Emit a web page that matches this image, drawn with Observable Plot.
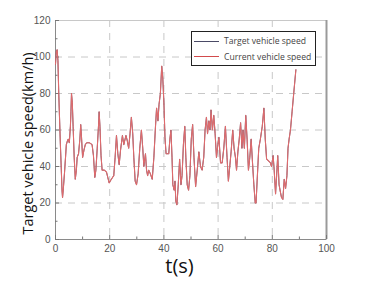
<!DOCTYPE html>
<html>
<head>
<meta charset="utf-8">
<script src="https://cdn.jsdelivr.net/npm/d3@7"></script>
<script src="https://cdn.jsdelivr.net/npm/@observablehq/plot@0.6"></script>
<style>
  html, body { margin: 0; padding: 0; background: #fff; }
  #wrap { position: relative; width: 373px; height: 283px; overflow: hidden; }
  #legend { position: absolute; left: 191px; top: 31px; width: 123px; height: 33px;
    border: 1.5px solid #222; background: #fff; font-family: "Open Sans", sans-serif; font-size: 8.6px; color: #444; }
  #legend .row { position: absolute; left: 2px; height: 12px; display: flex; align-items: center; white-space: nowrap; }
  #legend .sw { width: 25px; height: 0; border-top: 1px solid; margin-right: 5px; }
</style>
</head>
<body>
<div id="wrap"></div>
<script>
const time = [0,0.3,0.6,0.9,1.2,1.5,1.8,2.1,2.4,2.6,2.9,3.3,3.7,4.0,4.4,4.7,5.1,5.5,5.7,5.9,6.2,6.5,6.9,7.3,7.7,8.0,8.5,9.0,9.3,9.6,10.0,10.5,11.0,11.5,12.5,13.5,14.0,14.5,14.9,15.4,15.9,16.1,16.4,16.8,17.2,18.0,18.8,19.3,19.8,20.6,21.5,22.0,22.5,23.0,23.5,24.0,24.7,25.2,26.0,26.5,27.0,27.5,28.0,28.5,28.9,29.4,29.9,30.5,31.1,31.7,32.2,32.6,33.2,33.6,34.0,34.4,35.0,35.7,36.3,36.9,37.3,37.8,38.2,38.7,39.2,39.6,40.0,40.4,40.8,41.8,42.2,42.6,43.0,43.3,43.8,44.1,44.4,44.8,45.3,45.8,46.3,46.7,47.2,47.7,48.1,48.6,49.1,49.6,50.1,50.6,51.1,51.7,52.3,52.9,53.5,54.1,54.7,55.2,55.7,56.1,56.6,57.0,57.4,57.9,58.4,58.9,59.4,59.9,60.3,60.9,61.5,62.1,62.7,63.3,63.8,64.3,64.8,65.4,65.9,66.4,66.8,67.3,67.8,68.3,68.8,69.2,69.7,70.2,70.7,71.2,71.7,72.2,72.7,73.2,73.7,74.0,74.5,75.0,75.6,76.3,76.9,77.4,77.9,78.7,79.3,79.7,80.3,80.7,81.2,81.6,82.0,82.5,83.0,83.4,83.9,84.4,84.9,85.4,85.8,86.2,86.7,87.3,87.9,88.7];
const targetSpeed = [96,103,104,98,80,66,52,40,27,23,28,36,45,52,54,55,53,62,70,80,75,62,45,33,38,45,47,55,63,56,45,49,52,53,53,52,46,34,38,50,63,70,62,46,38,38,37,34,31,33,35,45,57,47,41,49,57,52,57,54,50,58,67,58,45,32,30,36,50,60,50,40,47,38,35,38,36,33,45,62,72,65,74,80,95,88,75,56,47,47,55,60,45,30,27,32,21,19,30,44,30,35,52,62,45,30,27,35,55,63,45,29,38,48,40,38,45,60,67,58,65,60,71,60,68,58,45,52,56,42,42,50,62,45,32,40,48,60,50,45,38,48,55,64,50,60,50,68,55,38,45,55,42,30,20,20,35,50,55,62,72,55,44,43,42,40,46,38,25,35,46,30,26,23,22,33,28,35,50,55,60,70,80,93];
const currentSpeed = [96,103,104,98,80,66,52,40,27,23,28,36,45,52,54,55,53,62,70,80,75,62,45,33,38,45,47,55,63,56,45,49,52,53,53,52,46,34,38,50,63,70,62,46,38,38,37,34,31,33,35,45,57,47,41,49,57,52,57,54,50,58,67,58,45,32,30,36,50,60,50,40,47,38,35,38,36,33,45,62,72,65,74,80,95,88,75,56,47,47,55,60,45,30,27,32,21,19,30,44,30,35,52,62,45,30,27,35,55,63,45,29,38,48,40,38,45,60,67,58,65,60,71,60,68,58,45,52,56,42,42,50,62,45,32,40,48,60,50,45,38,48,55,64,50,60,50,68,55,38,45,55,42,30,20,20,35,50,55,62,72,55,44,43,42,40,46,38,25,35,46,30,26,23,22,33,28,35,50,55,60,70,80,93];
const xTicks = [0,20,40,60,80,100];
const yTicks = [0,20,40,60,80,100,120];
const xMinor = [10,30,50,70,90];
const yMinor = [10,30,50,70,90,110];
const xGrid = [20,40,60,80];
const yGrid = [20,40,60,80,100];
const seriesNames = ["Target vehicle speed","Current vehicle speed"];
const seriesColors = ["#4a4a66","#d24a4c"];
const yTitle = "Target vehicle speed(km/h)";
const xTitle = "t(s)";

const target = time.map((t,i) => ({t, v: targetSpeed[i]}));
const current = time.map((t,i) => ({t, v: currentSpeed[i]}));

const plot = Plot.plot({
  width: 373, height: 283,
  marginLeft: 55, marginRight: 47, marginTop: 20, marginBottom: 44,
  x: {domain: [0,100]},
  y: {domain: [0,120]},
  style: {fontFamily: "Liberation Sans, sans-serif", background: "#fff"},
  marks: [
    Plot.ruleY(yGrid, {stroke: "#c8c8c8", strokeDasharray: "7,6", strokeWidth: 1}),
    Plot.ruleX(xGrid, {stroke: "#c8c8c8", strokeDasharray: "7,6", strokeWidth: 1}),
    Plot.frame({stroke: "#c8c8c8"}),
    Plot.ruleX([0], {stroke: "#8a8a8a"}),
    Plot.ruleY([0], {stroke: "#8a8a8a"}),
    Plot.ruleX([100], {stroke: "#9a9a9a", strokeWidth: 2}),
    Plot.tickX(xTicks, {x: d => d, insetTop: 215, stroke: "#777"}),
    Plot.tickX(xMinor, {x: d => d, insetTop: 216.5, stroke: "#777"}),
    Plot.tickY(yTicks, {y: d => d, insetRight: 267, stroke: "#777"}),
    Plot.tickY(yMinor, {y: d => d, insetRight: 268.5, stroke: "#777"}),
    Plot.axisX(xTicks, {tickSize: 0, tickPadding: 5, fontSize: 10, fill: "#555", label: null}),
    Plot.axisY(yTicks, {tickSize: 0, tickPadding: 5, fontSize: 10, fill: "#555", label: null}),
    Plot.line(target, {x: "t", y: "v", stroke: seriesColors[0], strokeWidth: 0.9}),
    Plot.line(current, {x: "t", y: "v", stroke: "#df6a6c", strokeWidth: 1.1}),
    Plot.text([yTitle], {frameAnchor: "left", dx: -27, dy: 13.5, rotate: -90, fontSize: 14.5, fill: "#111", fontFamily: "Open Sans, sans-serif", textAnchor: "middle"}),
    Plot.text([xTitle], {frameAnchor: "bottom", dx: -11.5, dy: 33, fontSize: 20, fill: "#111", fontFamily: "Open Sans, sans-serif", textAnchor: "middle"})
  ]
});

const wrap = document.getElementById("wrap");
wrap.appendChild(plot);
const lg = document.createElement("div");
lg.id = "legend";
seriesNames.forEach((name, i) => {
  const row = document.createElement("div");
  row.className = "row";
  row.style.top = (i === 0 ? 3 : 18.5) + "px";
  const sw = document.createElement("span");
  sw.className = "sw";
  sw.style.borderTopColor = seriesColors[i];
  const tx = document.createElement("span");
  tx.textContent = name;
  row.appendChild(sw); row.appendChild(tx);
  lg.appendChild(row);
});
wrap.appendChild(lg);
</script>
</body>
</html>
